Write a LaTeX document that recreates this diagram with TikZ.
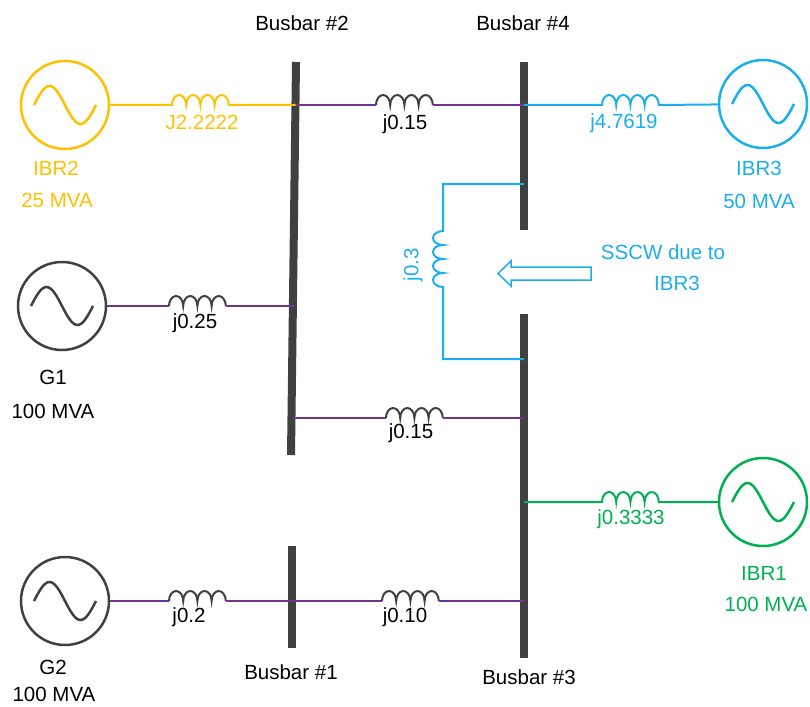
\documentclass[tikz,border=0pt]{standalone}
\usepackage{fontspec}
\setmainfont{Liberation Sans}
\usepackage{tikz}

\definecolor{ibryellow}{HTML}{FFC000}
\definecolor{ibrblue}{HTML}{1AAFEB}
\definecolor{ibrgreen}{HTML}{00B050}
\definecolor{linepurple}{HTML}{6E3591}
\definecolor{busgray}{HTML}{404040}

% four humps, left to right / top to bottom
\newcommand{\coil}{arc[start angle=180,end angle=0,x radius=7.1pt,y radius=10pt]
  arc[start angle=180,end angle=0,x radius=7.1pt,y radius=10pt]
  arc[start angle=180,end angle=0,x radius=7.1pt,y radius=10pt]
  arc[start angle=180,end angle=0,x radius=7.1pt,y radius=10pt]}
\newcommand{\vcoil}{arc[start angle=90,end angle=270,x radius=10pt,y radius=7pt]
  arc[start angle=90,end angle=270,x radius=10pt,y radius=7pt]
  arc[start angle=90,end angle=270,x radius=10pt,y radius=7pt]
  arc[start angle=90,end angle=270,x radius=10pt,y radius=7pt]}

\tikzset{
  bus/.style={line width=8pt,busgray},
  wire/.style={line width=2pt},
  lbl/.style={inner sep=0pt,font=\fontsize{20.5}{24}\selectfont},
  gen/.style={circle,draw=#1,line width=2.5pt,minimum size=88pt,inner sep=0pt,
    path picture={\draw[#1,line width=2.5pt]
      ([xshift=-31pt]path picture bounding box.center)
      sin ++(15.5,-19) cos ++(15.5,19) sin ++(15.5,19) cos ++(15.5,-19);}}
}

\begin{document}
\begin{tikzpicture}[x=1pt,y=-1pt]
          \useasboundingbox (0,0) rectangle (810,706);
          % busbars
          \coordinate (b2t) at (296,62);  \coordinate (b2b) at (291,455);
          \coordinate (b4t) at (524,62);  \coordinate (b4b) at (524,230);
          \coordinate (b3t) at (524,314); \coordinate (b3b) at (524,658);
          \coordinate (b1t) at (292,546); \coordinate (b1b) at (292,648);
          \draw[bus] (b2t) -- (b2b);
          \draw[bus] (b4t) -- (b4b);
          \draw[bus] (b3t) -- (b3b);
          \draw[bus] (b1t) -- (b1b);
          \coordinate (b2i) at (295.5,105); \coordinate (b2g) at (293.5,306);
          \coordinate (b2l) at (292.5,418);
          \coordinate (b4a) at (524,105);   \coordinate (b4c) at (524,184);
          \coordinate (b3c) at (524,359);   \coordinate (b3l) at (524,418);
          \coordinate (b3i) at (524,502);   \coordinate (b3g) at (524,601);
          \coordinate (b1g) at (292,601);
          % generators
          \node[gen=ibryellow] (IBR2) at (65,105) {};
          \node[gen=busgray] (G1) at (62,306) {};
          \node[gen=busgray] (G2) at (65,601) {};
          \node[gen=ibrblue] (IBR3) at (763,104) {};
          \node[gen=ibrgreen] (IBR1) at (763,502) {};
          % coil starts
          \coordinate (k1) at (172,105); \coordinate (k2) at (376,105);
          \coordinate (k3) at (602,105); \coordinate (k4) at (169,306);
          \coordinate (k5) at (386,418); \coordinate (k6) at (602,502);
          \coordinate (k7) at (169,601); \coordinate (k8) at (382,601);
          \coordinate (kv) at (443,231);
          % lines
          \draw[wire,ibryellow] (IBR2) -- (k1) \coil -- (b2i);
          \draw[wire,linepurple] (b2i) -- (k2);
          \draw[wire,busgray] (k2) \coil coordinate (k2e);
          \draw[wire,linepurple] (k2e) -- (b4a);
          \draw[wire,ibrblue] (b4a) -- (k3) \coil -- (IBR3);
          \draw[wire,linepurple] (G1) -- (k4);
          \draw[wire,busgray] (k4) \coil coordinate (k4e);
          \draw[wire,linepurple] (k4e) -- (b2g);
          \draw[wire,linepurple] (b2l) -- (k5);
          \draw[wire,busgray] (k5) \coil coordinate (k5e);
          \draw[wire,linepurple] (k5e) -- (b3l);
          \draw[wire,ibrgreen] (b3i) -- (k6) \coil -- (IBR1);
          \draw[wire,linepurple] (G2) -- (k7);
          \draw[wire,busgray] (k7) \coil coordinate (k7e);
          \draw[wire,linepurple] (k7e) -- (b1g) -- (k8);
          \draw[wire,busgray] (k8) \coil coordinate (k8e);
          \draw[wire,linepurple] (k8e) -- (b3g);
          \draw[wire,ibrblue] (b4c) -| (kv) \vcoil |- (b3c);
          % hollow arrow
          \draw[ibrblue,line width=1.5pt] (591,267) -- (511,267) -- (511,261) -- (498,273.5)
            -- (511,286) -- (511,280) -- (591,280) -- cycle;
          % bus names
          \node[lbl] (nb2) at (302,23) {Busbar \#2};
          \node[lbl] (nb4) at (523,23) {Busbar \#4};
          \node[lbl] (nb1) at (291,672) {Busbar \#1};
          \node[lbl] (nb3) at (529,677) {Busbar \#3};
          % reactances
          \node[lbl,ibryellow] (x1) at (202,122) {J2.2222};
          \node[lbl] (x2) at (405,124) {j0.15};
          \node[lbl,ibrblue] (x3) at (624,123) {j4.7619};
          \node[lbl] (x4) at (195,323) {j0.25};
          \node[lbl] (x5) at (411,433) {j0.15};
          \node[lbl,ibrgreen] (x6) at (631,519) {j0.3333};
          \node[lbl] (x7) at (189,617) {j0.2};
          \node[lbl] (x8) at (405,617) {j0.10};
          \node[lbl,ibrblue,rotate=90] (x9) at (413,265) {j0.3};
          % sources
          \node[lbl,ibryellow] (n1) at (56,168) {IBR2};
          \node[lbl,ibryellow] (r1) at (57,200) {25 MVA};
          \node[lbl] (n2) at (53,377) {G1};
          \node[lbl] (r2) at (53,411) {100 MVA};
          \node[lbl] (n3) at (53,667) {G2};
          \node[lbl] (r3) at (54,694) {100 MVA};
          \node[lbl,ibrblue] (n4) at (759,168) {IBR3};
          \node[lbl,ibrblue] (r4) at (759,201) {50 MVA};
          \node[lbl,ibrgreen] (n5) at (764,573) {IBR1};
          \node[lbl,ibrgreen] (r5) at (766,604) {100 MVA};
          \node[lbl,ibrblue] (s1) at (663,252) {SSCW due to};
          \node[lbl,ibrblue] (s2) at (677,283) {IBR3};
        \end{tikzpicture}
\end{document}
